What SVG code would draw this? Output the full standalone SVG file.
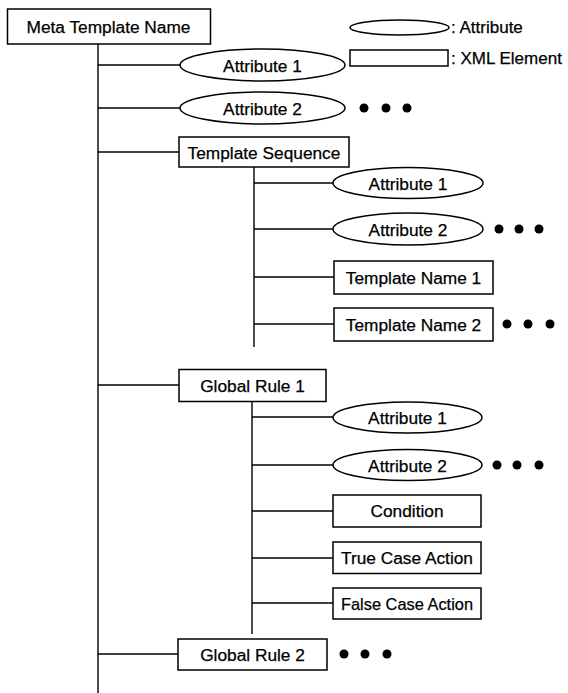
<svg xmlns="http://www.w3.org/2000/svg" width="568" height="693" viewBox="0 0 568 693">
<style>
.box{fill:#fff;stroke:#000;stroke-width:1.5}
.att{fill:#fff;stroke:#000;stroke-width:1.5}
.ln{stroke:#000;stroke-width:1.4;fill:none}
.t{font-family:"Liberation Sans",Arial,sans-serif;font-size:17.3px;fill:#000;stroke:#000;stroke-width:0.25;text-anchor:middle}
.lt{font-family:"Liberation Sans",Arial,sans-serif;font-size:17px;fill:#000;stroke:#000;stroke-width:0.25}
.sm{font-size:16.4px}
.dot{fill:#000}
</style>
<rect width="568" height="693" fill="#fff"/>
<g id="connectors">
<line class="ln" x1="98" y1="44" x2="98" y2="693"/>
<line class="ln" x1="98" y1="65" x2="180" y2="65"/>
<line class="ln" x1="98" y1="108" x2="180" y2="108"/>
<line class="ln" x1="98" y1="152" x2="179" y2="152"/>
<line class="ln" x1="254" y1="167" x2="254" y2="347"/>
<line class="ln" x1="254" y1="183" x2="333" y2="183"/>
<line class="ln" x1="254" y1="229" x2="333" y2="229"/>
<line class="ln" x1="254" y1="277" x2="334" y2="277"/>
<line class="ln" x1="254" y1="324" x2="334" y2="324"/>
<line class="ln" x1="98" y1="385" x2="179" y2="385"/>
<line class="ln" x1="252" y1="401" x2="252" y2="634"/>
<line class="ln" x1="252" y1="417" x2="333" y2="417"/>
<line class="ln" x1="252" y1="465" x2="333" y2="465"/>
<line class="ln" x1="252" y1="511" x2="333" y2="511"/>
<line class="ln" x1="252" y1="558" x2="333" y2="558"/>
<line class="ln" x1="252" y1="603" x2="333" y2="603"/>
<line class="ln" x1="98" y1="654" x2="178" y2="654"/>
</g>
<g id="legend">
<ellipse class="att" cx="399.5" cy="27.5" rx="49.5" ry="7.5"/>
<text class="lt" x="451" y="33">: Attribute</text>
<rect class="box" x="350" y="50" width="98" height="16"/>
<text class="lt" x="451" y="64">: XML Element</text>
</g>
<g id="meta-template-name">
<rect class="box" x="7.5" y="9" width="203" height="35"/>
<text class="t" x="108.5" y="33">Meta Template Name</text>
</g>
<g id="meta-attribute-1">
<ellipse class="att" cx="262.5" cy="65" rx="82.5" ry="16"/>
<text class="t" x="262.5" y="71.5">Attribute 1</text>
</g>
<g id="meta-attribute-2">
<ellipse class="att" cx="262.5" cy="108" rx="82.5" ry="16"/>
<text class="t" x="262.5" y="114.5">Attribute 2</text>
<circle class="dot" cx="364" cy="108" r="4.5"/>
<circle class="dot" cx="386" cy="108" r="4.5"/>
<circle class="dot" cx="407" cy="108" r="4.5"/>
</g>
<g id="template-sequence">
<rect class="box" x="179" y="137" width="170" height="30"/>
<text class="t" x="264" y="158.5">Template Sequence</text>
</g>
<g id="ts-attribute-1">
<ellipse class="att" cx="408" cy="183" rx="75" ry="15.5"/>
<text class="t" x="408" y="189.5">Attribute 1</text>
</g>
<g id="ts-attribute-2">
<ellipse class="att" cx="408" cy="229" rx="75" ry="16"/>
<text class="t" x="408" y="235.5">Attribute 2</text>
<circle class="dot" cx="499" cy="229" r="4.5"/>
<circle class="dot" cx="519" cy="229" r="4.5"/>
<circle class="dot" cx="539" cy="229" r="4.5"/>
</g>
<g id="template-name-1">
<rect class="box" x="334" y="261" width="159" height="33"/>
<text class="t" x="413.5" y="283.5">Template Name 1</text>
</g>
<g id="template-name-2">
<rect class="box" x="334" y="308" width="159" height="33"/>
<text class="t" x="413.5" y="330.5">Template Name 2</text>
<circle class="dot" cx="507" cy="324" r="4.5"/>
<circle class="dot" cx="528" cy="324" r="4.5"/>
<circle class="dot" cx="550" cy="324" r="4.5"/>
</g>
<g id="global-rule-1">
<rect class="box" x="179" y="369.5" width="147" height="32"/>
<text class="t" x="252.5" y="391.5">Global Rule 1</text>
</g>
<g id="gr-attribute-1">
<ellipse class="att" cx="407.5" cy="417.5" rx="74.5" ry="15.5"/>
<text class="t" x="407.5" y="424">Attribute 1</text>
</g>
<g id="gr-attribute-2">
<ellipse class="att" cx="407.5" cy="465" rx="74.5" ry="15.5"/>
<text class="t" x="407.5" y="471.5">Attribute 2</text>
<circle class="dot" cx="497" cy="465" r="4.5"/>
<circle class="dot" cx="517" cy="465" r="4.5"/>
<circle class="dot" cx="539" cy="465" r="4.5"/>
</g>
<g id="condition">
<rect class="box" x="333" y="495" width="148" height="32"/>
<text class="t" x="407" y="517">Condition</text>
</g>
<g id="true-case-action">
<rect class="box" x="333" y="542" width="148" height="31.5"/>
<text class="t" x="407" y="564">True Case Action</text>
</g>
<g id="false-case-action">
<rect class="box" x="333" y="588" width="148" height="31"/>
<text class="t sm" x="407" y="609.5">False Case Action</text>
</g>
<g id="global-rule-2">
<rect class="box" x="178" y="639" width="149" height="31"/>
<text class="t" x="252.5" y="660.5">Global Rule 2</text>
<circle class="dot" cx="344" cy="654" r="4.5"/>
<circle class="dot" cx="365" cy="654" r="4.5"/>
<circle class="dot" cx="387" cy="654" r="4.5"/>
</g>
</svg>
